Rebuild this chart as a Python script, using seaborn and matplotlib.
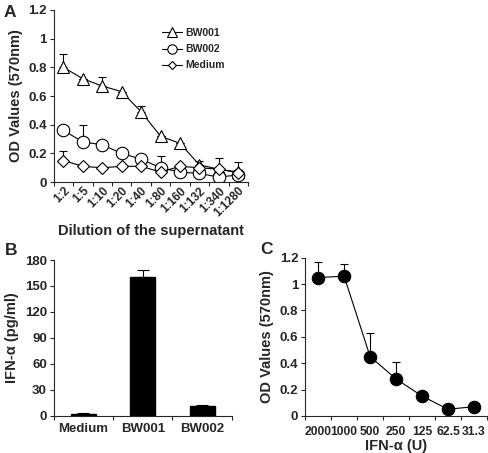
import numpy as np
import pandas as pd
import matplotlib
matplotlib.use("Agg")
import matplotlib.pyplot as plt
import seaborn as sns

# Panel A: OD values by dilution of the supernatant
dilutions = ["1:2", "1:5", "1:10", "1:20", "1:40", "1:80", "1:160", "1:132", "1:340", "1:1280"]
bw001 = [0.80, 0.72, 0.67, 0.63, 0.49, 0.32, 0.27, 0.12, 0.09, 0.07]
bw001_err = [0.09, 0.00, 0.06, 0.00, 0.04, 0.00, 0.00, 0.03, 0.08, 0.07]
bw002 = [0.36, 0.28, 0.26, 0.20, 0.16, 0.10, 0.07, 0.06, 0.035, 0.05]
bw002_err = [0.00, 0.12, 0.00, 0.00, 0.03, 0.08, 0.00, 0.00, 0.00, 0.00]
medium = [0.15, 0.11, 0.10, 0.11, 0.11, 0.07, 0.11, 0.10, 0.09, 0.065]
medium_err = [0.07, 0.00, 0.00, 0.00, 0.00, 0.00, 0.00, 0.00, 0.00, 0.00]

# Panel B: IFN-alpha concentration
groups = ["Medium", "BW001", "BW002"]
ifn_conc = [2, 160, 11]
ifn_conc_err = [1, 8, 1]

# Panel C: OD values by IFN-alpha units
units = ["2000", "1000", "500", "250", "125", "62.5", "31.3"]
od_units = [1.05, 1.06, 0.45, 0.28, 0.15, 0.05, 0.07]
od_units_err = [0.12, 0.09, 0.18, 0.13, 0.00, 0.00, 0.00]

sns.set_style("ticks")
plt.rcParams["font.family"] = ["Liberation Sans", "DejaVu Sans"]
plt.rcParams["font.weight"] = "bold"
plt.rcParams["axes.labelweight"] = "bold"

fig = plt.figure(figsize=(4.89, 4.53), dpi=100)
axA = fig.add_axes([0.110, 0.598, 0.397, 0.380])
axB = fig.add_axes([0.110, 0.082, 0.364, 0.344])
axC = fig.add_axes([0.624, 0.082, 0.372, 0.349])

tick_fs = 9.5
label_fs = 10.5


def style_axis(ax, xsize=tick_fs, xpad=2):
    sns.despine(ax=ax)
    ax.tick_params(axis="y", direction="out", length=3, width=0.8, labelsize=tick_fs, pad=2)
    ax.tick_params(axis="x", labelsize=xsize, pad=xpad)
    for lab in ax.get_xticklabels() + ax.get_yticklabels():
        lab.set_fontweight("bold")


def category_ticks(ax, n):
    # labels centred on the points, tick marks between categories
    ax.set_xlim(-0.5, n - 0.5)
    ax.set_xticks(np.arange(n))
    ax.set_xticks(np.arange(n + 1) - 0.5, minor=True)
    ax.tick_params(axis="x", which="major", length=0)
    ax.tick_params(axis="x", which="minor", direction="out", length=3, width=0.8)


# ---- Panel A ----
x = np.arange(len(dilutions))
series = [("BW001", bw001, bw001_err, "^", 9),
          ("BW002", bw002, bw002_err, "o", 9),
          ("Medium", medium, medium_err, "D", 6)]
for name, vals, errs, mk, ms in series:
    axA.errorbar(x, vals, yerr=[np.zeros(len(errs)), errs], fmt="none",
                 ecolor="black", elinewidth=0.8, capsize=3, capthick=0.8, zorder=1)
    sns.lineplot(x=x, y=vals, ax=axA, color="black", linewidth=0.8, marker=mk,
                 markersize=ms, markerfacecolor="white", markeredgecolor="black",
                 markeredgewidth=0.8, label=name, zorder=2)
axA.set_ylim(0, 1.2)
axA.set_yticks([0, 0.2, 0.4, 0.6, 0.8, 1, 1.2])
axA.set_yticklabels(["0", "0.2", "0.4", "0.6", "0.8", "1", "1.2"])
category_ticks(axA, len(dilutions))
axA.set_xticklabels(dilutions, rotation=45, ha="right", rotation_mode="anchor")
axA.set_ylabel("OD Values (570nm)", fontsize=label_fs, fontweight="bold")
axA.set_xlabel("Dilution of the supernatant", fontsize=label_fs, fontweight="bold", labelpad=3)
style_axis(axA, xsize=8.5)
leg = axA.legend(loc="upper right", bbox_to_anchor=(0.93, 0.95), frameon=False,
                 fontsize=7.5, handlelength=2.0, handletextpad=0.3, labelspacing=0.6,
                 markerscale=0.75)
for t in leg.get_texts():
    t.set_fontweight("bold")

# ---- Panel B ----
dfB = pd.DataFrame({"group": groups, "conc": ifn_conc})
sns.barplot(data=dfB, x="group", y="conc", ax=axB, color="black", width=0.42,
            saturation=1, edgecolor="black")
axB.errorbar(np.arange(len(groups)), ifn_conc,
             yerr=[np.zeros(len(groups)), ifn_conc_err], fmt="none",
             ecolor="black", elinewidth=0.8, capsize=4, capthick=0.8)
axB.set_ylim(0, 180)
axB.set_yticks(np.arange(0, 181, 30))
category_ticks(axB, len(groups))
axB.set_xticklabels(groups)
axB.set_xlabel("")
axB.set_ylabel("IFN-α (pg/ml)", fontsize=label_fs, fontweight="bold")
style_axis(axB, xpad=5)

# ---- Panel C ----
xc = np.arange(len(units))
axC.errorbar(xc, od_units, yerr=[np.zeros(len(units)), od_units_err], fmt="none",
             ecolor="black", elinewidth=0.8, capsize=3, capthick=0.8, zorder=1)
sns.lineplot(x=xc, y=od_units, ax=axC, color="black", linewidth=0.8, marker="o",
             markersize=9, markerfacecolor="black", markeredgecolor="black", zorder=2)
axC.set_ylim(0, 1.2)
axC.set_yticks([0, 0.2, 0.4, 0.6, 0.8, 1, 1.2])
axC.set_yticklabels(["0", "0.2", "0.4", "0.6", "0.8", "1", "1.2"])
category_ticks(axC, len(units))
axC.set_xticklabels(units)
axC.set_ylabel("OD Values (570nm)", fontsize=label_fs, fontweight="bold")
axC.set_xlabel("IFN-α (U)", fontsize=label_fs, fontweight="bold", labelpad=1)
style_axis(axC, xsize=8.7, xpad=7)

# panel letters
fig.text(0.008, 0.988, "A", fontsize=12.5, fontweight="bold", va="top")
fig.text(0.010, 0.464, "B", fontsize=12.5, fontweight="bold", va="top")
fig.text(0.532, 0.466, "C", fontsize=12.5, fontweight="bold", va="top")

fig.savefig("out.png", dpi=100)
